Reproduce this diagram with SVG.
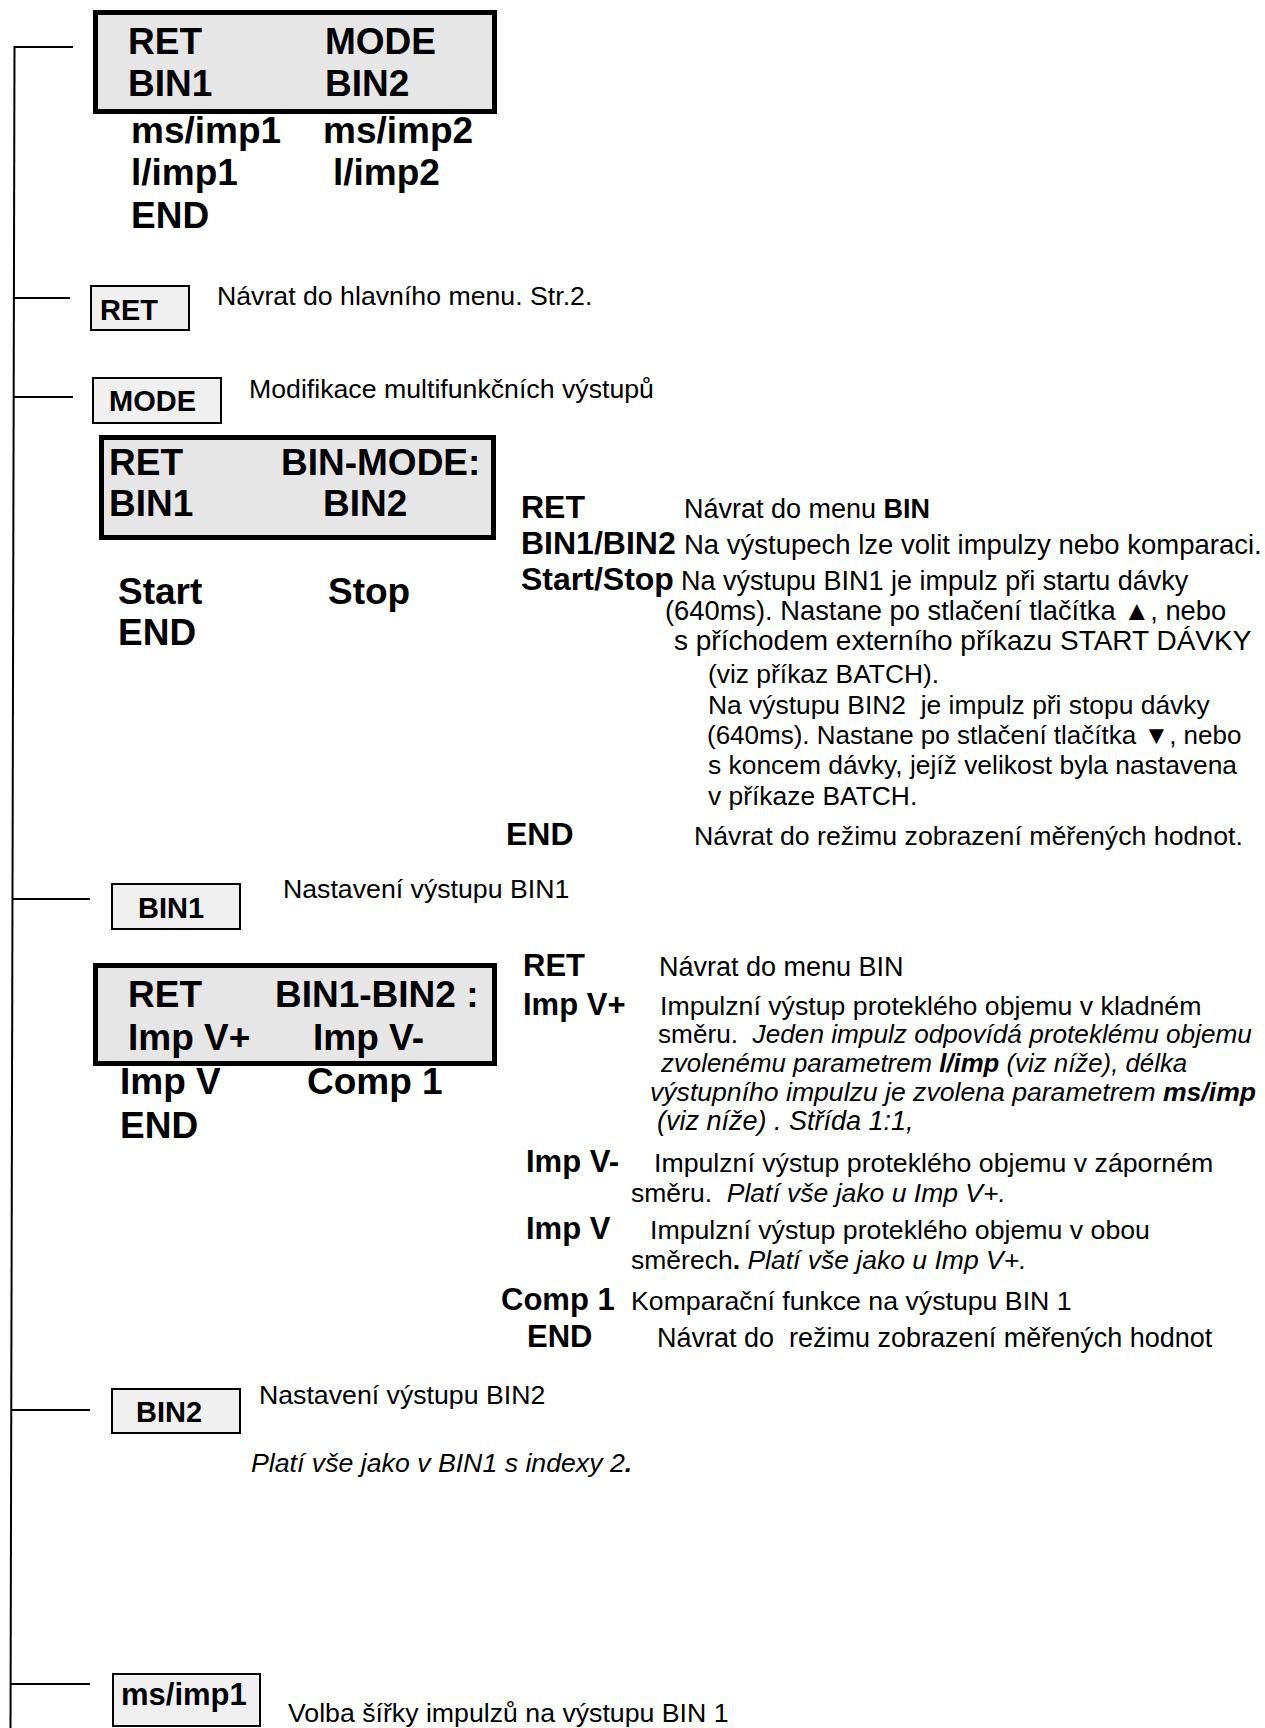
<svg xmlns="http://www.w3.org/2000/svg" width="1265" height="1728" viewBox="0 0 1265 1728">
<style>
text{font-family:"Liberation Sans",Arial,sans-serif;fill:#000}
.big{font-weight:bold;font-size:37px}
.btn{font-weight:bold;font-size:29px}
.desc{font-size:26.7px}
.rd{font-size:27px}
.rs{font-size:26.4px}
.rk{font-weight:bold;font-size:32px}
.b{font-weight:bold}
.i{font-style:italic}
.lcd{fill:#e6e6e6;stroke:#000;stroke-width:5}
.key{fill:#f0f0f0;stroke:#000;stroke-width:2}
.wire{stroke:#000;stroke-width:2;fill:none}
</style>
<rect width="1265" height="1728" fill="#fff"/>
<g id="connectors">
<line class="wire" x1="14.5" y1="46" x2="10.5" y2="1728"/>
<line class="wire" x1="14" y1="47" x2="73" y2="47"/>
<line class="wire" x1="14" y1="298" x2="70" y2="298"/>
<line class="wire" x1="14" y1="397" x2="73" y2="397"/>
<line class="wire" x1="13" y1="899" x2="90" y2="899"/>
<line class="wire" x1="12" y1="1410" x2="90" y2="1410"/>
<line class="wire" x1="11" y1="1684" x2="90" y2="1684"/>
</g>
<g id="menu-bin">
<rect class="lcd" x="95.5" y="12.5" width="399" height="99"/>
<text class="big" x="128" y="54">RET</text>
<text class="big" x="325" y="54">MODE</text>
<text class="big" x="128" y="96">BIN1</text>
<text class="big" x="325" y="96">BIN2</text>
<text class="big" x="131" y="143">ms/imp1</text>
<text class="big" x="323" y="143">ms/imp2</text>
<text class="big" x="131" y="185">l/imp1</text>
<text class="big" x="333" y="185">l/imp2</text>
<text class="big" x="131" y="228">END</text>
</g>
<g id="node-ret">
<rect class="key" x="91" y="286" width="98" height="44"/>
<text class="btn" x="100" y="320">RET</text>
<text class="desc" x="217" y="305">Návrat do hlavního menu. Str.2.</text>
</g>
<g id="node-mode">
<rect class="key" x="93" y="378" width="128" height="45"/>
<text class="btn" x="109" y="411">MODE</text>
<text class="desc" x="249" y="398">Modifikace multifunkčních výstupů</text>
</g>
<g id="menu-binmode">
<rect class="lcd" x="101.5" y="437.5" width="392" height="100"/>
<text class="big" x="109" y="475">RET</text>
<text class="big" x="281" y="475">BIN-MODE:</text>
<text class="big" x="109" y="516">BIN1</text>
<text class="big" x="323" y="516">BIN2</text>
<text class="big" x="118" y="604">Start</text>
<text class="big" x="328" y="604">Stop</text>
<text class="big" x="118" y="645">END</text>
</g>
<g id="binmode-help">
<text class="rk" x="521" y="518">RET</text>
<text class="rd" x="684" y="518">Návrat do menu <tspan class="b">BIN</tspan></text>
<text class="rk" x="521" y="554">BIN1/BIN2</text>
<text class="rd" x="684" y="554" style="font-size:27.5px">Na výstupech lze volit impulzy nebo komparaci.</text>
<text class="rk" x="521" y="590">Start/Stop</text>
<text class="rd" x="681" y="590">Na výstupu BIN1 je impulz při startu dávky</text>
<text class="rd" x="665" y="620" style="font-size:27.3px">(640ms). Nastane po stlačení tlačítka ▲, nebo</text>
<text class="rd" x="674" y="650" style="font-size:28px">s příchodem externího příkazu START DÁVKY</text>
<text class="rs" x="708" y="683">(viz příkaz BATCH).</text>
<text class="rs" x="708" y="714" xml:space="preserve">Na výstupu BIN2  je impulz při stopu dávky</text>
<text class="rs" x="707" y="744" style="font-size:26px">(640ms). Nastane po stlačení tlačítka ▼, nebo</text>
<text class="rs" x="708" y="774">s koncem dávky, jejíž velikost byla nastavena</text>
<text class="rs" x="708" y="805">v příkaze BATCH.</text>
<text class="rk" x="506" y="845">END</text>
<text class="rs" x="694" y="845" style="font-size:26.7px">Návrat do režimu zobrazení měřených hodnot.</text>
</g>
<g id="node-bin1">
<rect class="key" x="112" y="884" width="128" height="45"/>
<text class="btn" x="138" y="918">BIN1</text>
<text class="desc" x="283" y="898">Nastavení výstupu BIN1</text>
</g>
<g id="menu-bin1">
<rect class="lcd" x="95.5" y="965.5" width="399" height="98"/>
<text class="big" x="128" y="1007">RET</text>
<text class="big" x="275" y="1007">BIN1-BIN2 :</text>
<text class="big" x="128" y="1050">Imp V+</text>
<text class="big" x="313" y="1050">Imp V-</text>
<text class="big" x="120" y="1094">Imp V</text>
<text class="big" x="307" y="1094">Comp 1</text>
<text class="big" x="120" y="1138">END</text>
</g>
<g id="bin1-help">
<text class="rk" x="523" y="976" style="font-size:31px">RET</text>
<text class="rd" x="659" y="976">Návrat do menu BIN</text>
<text class="rk" x="523" y="1015" style="font-size:31px">Imp V+</text>
<text class="rd" x="660" y="1015" style="font-size:26.7px">Impulzní výstup proteklého objemu v kladném</text>
<text class="rd" x="658" y="1043" xml:space="preserve" style="font-size:26.2px">směru.  <tspan class="i">Jeden impulz odpovídá proteklému objemu</tspan></text>
<text class="rd i" x="661" y="1072" style="font-size:25.8px">zvolenému parametrem <tspan class="b">l/imp</tspan> (viz níže), délka</text>
<text class="rd i" x="650" y="1101" style="font-size:26.6px">výstupního impulzu je zvolena parametrem <tspan class="b">ms/imp</tspan></text>
<text class="rd i" x="657" y="1130">(viz níže) . Střída 1:1,</text>
<text class="rk" x="526" y="1172" style="font-size:31px">Imp V-</text>
<text class="rd" x="654" y="1172" style="font-size:26.7px">Impulzní výstup proteklého objemu v záporném</text>
<text class="rd" x="631" y="1202" xml:space="preserve" style="font-size:26.5px">směru.  <tspan class="i">Platí vše jako u Imp V+.</tspan></text>
<text class="rk" x="526" y="1239" style="font-size:31px">Imp V</text>
<text class="rd" x="650" y="1239" style="font-size:26.7px">Impulzní výstup proteklého objemu v obou</text>
<text class="rd" x="631" y="1269" style="font-size:26.5px">směrech<tspan class="b">.</tspan> <tspan class="i">Platí vše jako u Imp V+.</tspan></text>
<text class="rk" x="501" y="1310" style="font-size:31px">Comp 1</text>
<text class="rd" x="631" y="1310" style="font-size:26.7px">Komparační funkce na výstupu BIN 1</text>
<text class="rk" x="527" y="1347" style="font-size:31px">END</text>
<text class="rd" x="657" y="1347" xml:space="preserve">Návrat do  režimu zobrazení měřených hodnot</text>
</g>
<g id="node-bin2">
<rect class="key" x="112" y="1389" width="128" height="44"/>
<text class="btn" x="136" y="1422">BIN2</text>
<text class="desc" x="259" y="1404">Nastavení výstupu BIN2</text>
<text class="desc i" x="251" y="1472">Platí vše jako v BIN1 s indexy 2<tspan class="b">.</tspan></text>
</g>
<g id="node-msimp1">
<rect class="key" x="113" y="1674" width="147" height="52"/>
<text class="btn" x="121" y="1705" style="font-size:31px">ms/imp1</text>
<text class="desc" x="288" y="1722">Volba šířky impulzů na výstupu BIN 1</text>
</g>
</svg>
